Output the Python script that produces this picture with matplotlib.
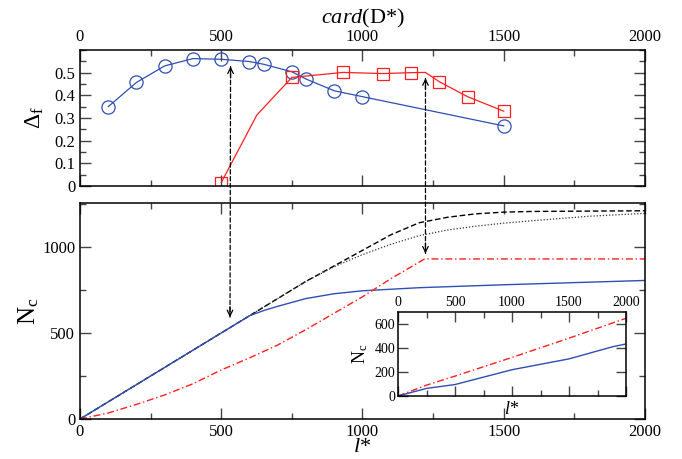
import matplotlib
matplotlib.use("Agg")
import matplotlib.pyplot as plt
from matplotlib.patches import ConnectionPatch
from matplotlib.ticker import MultipleLocator

plt.rcParams['font.family'] = ['Liberation Serif', 'DejaVu Serif']
plt.rcParams['mathtext.fontset'] = 'custom'
plt.rcParams['mathtext.rm'] = 'Liberation Serif'
plt.rcParams['mathtext.it'] = 'Liberation Serif:italic'
plt.rcParams['mathtext.cal'] = 'Liberation Serif'

# ---- top panel data: Delta_f vs card(D*) ----
blue_card = [100, 200, 300, 400, 500, 600, 650, 750, 800, 900, 1000, 1500]
blue_delta = [0.350, 0.457, 0.530, 0.562, 0.559, 0.549, 0.537, 0.504, 0.472, 0.420, 0.394, 0.265]

red_card = [500, 626, 750, 931, 1072, 1172, 1223, 1272, 1372, 1500]
red_delta = [0.015, 0.313, 0.479, 0.501, 0.496, 0.500, 0.501, 0.460, 0.394, 0.330]
red_marked = [0, 2, 3, 4, 5, 7, 8, 9]

# ---- bottom panel data: N_c vs l* ----
dash_l = [0, 200, 400, 600, 700, 800, 900, 1000, 1100, 1200, 1300, 1400, 1500, 1600, 1800, 2000]
dash_n = [0, 200, 400, 600, 700, 800, 890, 980, 1070, 1140, 1172, 1192, 1202, 1206, 1208, 1210]

dot_l = [0, 200, 400, 600, 700, 800, 900, 1000, 1100, 1200, 1300, 1400, 1500, 1600, 1800, 2000]
dot_n = [0, 200, 400, 600, 700, 800, 885, 955, 1015, 1065, 1098, 1120, 1138, 1152, 1178, 1195]

blue_l = [0, 300, 600, 650, 700, 800, 900, 1000, 1200, 1500, 1800, 2000]
blue_n = [0, 300, 600, 630, 655, 700, 728, 745, 763, 780, 795, 805]

red_l = [0, 100, 200, 300, 400, 500, 600, 700, 800, 900, 1000, 1100, 1220, 2000]
red_n = [0, 35, 85, 140, 205, 285, 355, 430, 520, 615, 710, 815, 930, 930]

# ---- inset data ----
in_blue_l = [0, 250, 500, 1000, 1500, 1880, 2000]
in_blue_n = [0, 63, 95, 218, 308, 408, 432]
in_red_l = [0, 250, 500, 1000, 1500, 2000]
in_red_n = [0, 90, 165, 320, 480, 645]

# ---- arrows (x, y in top panel) -> (x, y in bottom panel) ----
arrow_top = [(533, 0.527), (1223, 0.475)]
arrow_bot = [(531, 592), (1223, 962)]

BLUE = '#2f4fb0'
RED = '#ff1f1f'

fig = plt.figure(figsize=(6.82, 4.59), dpi=100)
ax_top = fig.add_axes([0.1173, 0.5948, 0.8284, 0.2963])
ax_bot = fig.add_axes([0.1173, 0.0871, 0.8284, 0.4706])
ax_in = fig.add_axes([0.5836, 0.1373, 0.3343, 0.1837])

def style(ax, fs, major_len=8, minor_len=4):
    ax.tick_params(which='both', direction='in', top=True, right=True,
                   labelsize=fs, color='#444444', width=1.0)
    ax.tick_params(which='major', length=major_len)
    ax.tick_params(which='minor', length=minor_len)
    for s in ax.spines.values():
        s.set_linewidth(1.1)

# top panel
ax_top.plot(blue_card, blue_delta, color=BLUE, lw=0.9, marker='o', ms=9.5,
            mfc='none', mec=BLUE, mew=0.9)
ax_top.plot(red_card, red_delta, color=RED, lw=0.9, marker='s', ms=8.5,
            mfc='none', mec=RED, mew=0.9, markevery=red_marked)
ax_top.set_xlim(0, 2000)
ax_top.set_ylim(0, 0.6)
ax_top.xaxis.set_major_locator(MultipleLocator(500))
ax_top.xaxis.set_minor_locator(MultipleLocator(250))
ax_top.yaxis.set_major_locator(MultipleLocator(0.1))
ax_top.yaxis.set_minor_locator(MultipleLocator(0.05))
style(ax_top, 12)
ax_top.tick_params(axis='x', labelbottom=False, labeltop=True)
ax_top.set_yticks([0, 0.1, 0.2, 0.3, 0.4, 0.5])
ax_top.set_yticklabels(['0', '0.1', '0.2', '0.3', '0.4', '0.5'])
ax_top.xaxis.set_label_position('top')
ax_top.set_xlabel(r'$\it{card}$(D*)', fontsize=16, labelpad=4)
ax_top.set_ylabel(r'$\Delta_{\rm f}$', fontsize=17, labelpad=6)

# bottom panel
ax_bot.plot(dash_l, dash_n, color='black', lw=1.0, ls=(0, (4, 2)))
ax_bot.plot(dot_l, dot_n, color='#333333', lw=0.9, ls=(0, (1, 1.5)))
ax_bot.plot(blue_l, blue_n, color=BLUE, lw=1.0)
ax_bot.plot(red_l, red_n, color=RED, lw=1.0, ls=(0, (5, 2, 1, 2)))
ax_bot.set_xlim(0, 2000)
ax_bot.set_ylim(0, 1255)
ax_bot.xaxis.set_major_locator(MultipleLocator(500))
ax_bot.xaxis.set_minor_locator(MultipleLocator(250))
ax_bot.yaxis.set_major_locator(MultipleLocator(500))
ax_bot.yaxis.set_minor_locator(MultipleLocator(250))
style(ax_bot, 12)
ax_bot.set_xlabel(r'$\it{l}$*', fontsize=16, labelpad=-1)
ax_bot.set_ylabel(r'N$_{\rm c}$', fontsize=18, labelpad=1)

# inset
ax_in.plot(in_red_l, in_red_n, color=RED, lw=1.0, ls=(0, (5, 2, 1, 2)))
ax_in.plot(in_blue_l, in_blue_n, color=BLUE, lw=1.0)
ax_in.set_xlim(0, 2000)
ax_in.set_ylim(0, 700)
ax_in.xaxis.set_major_locator(MultipleLocator(500))
ax_in.xaxis.set_minor_locator(MultipleLocator(250))
ax_in.yaxis.set_major_locator(MultipleLocator(200))
style(ax_in, 10, major_len=7, minor_len=4)
ax_in.tick_params(axis='x', labelbottom=False, labeltop=True, pad=2)
ax_in.tick_params(axis='y', pad=2)
ax_in.set_xlabel(r'$\it{l}$*', fontsize=13, labelpad=0)
ax_in.set_ylabel(r'N$_{\rm c}$', fontsize=13, labelpad=3)

# double-headed dashed arrows spanning both panels
for (xa, ya), (xb, yb) in zip(arrow_top, arrow_bot):
    line = ConnectionPatch(xyA=(xa, ya), coordsA=ax_top.transData,
                           xyB=(xb, yb), coordsB=ax_bot.transData,
                           arrowstyle='-', color='black', lw=0.9,
                           linestyle=(0, (3.5, 2)))
    fig.add_artist(line)
    ax_top.annotate('', xy=(xa, ya), xytext=(xa, ya - 0.05),
                    arrowprops=dict(arrowstyle='->,head_length=0.4,head_width=0.2',
                                    color='black', lw=0.9, shrinkA=0, shrinkB=0))
    ax_bot.annotate('', xy=(xb, yb), xytext=(xb, yb + 60),
                    arrowprops=dict(arrowstyle='->,head_length=0.4,head_width=0.2',
                                    color='black', lw=0.9, shrinkA=0, shrinkB=0))

fig.savefig('out.png', dpi=100)
